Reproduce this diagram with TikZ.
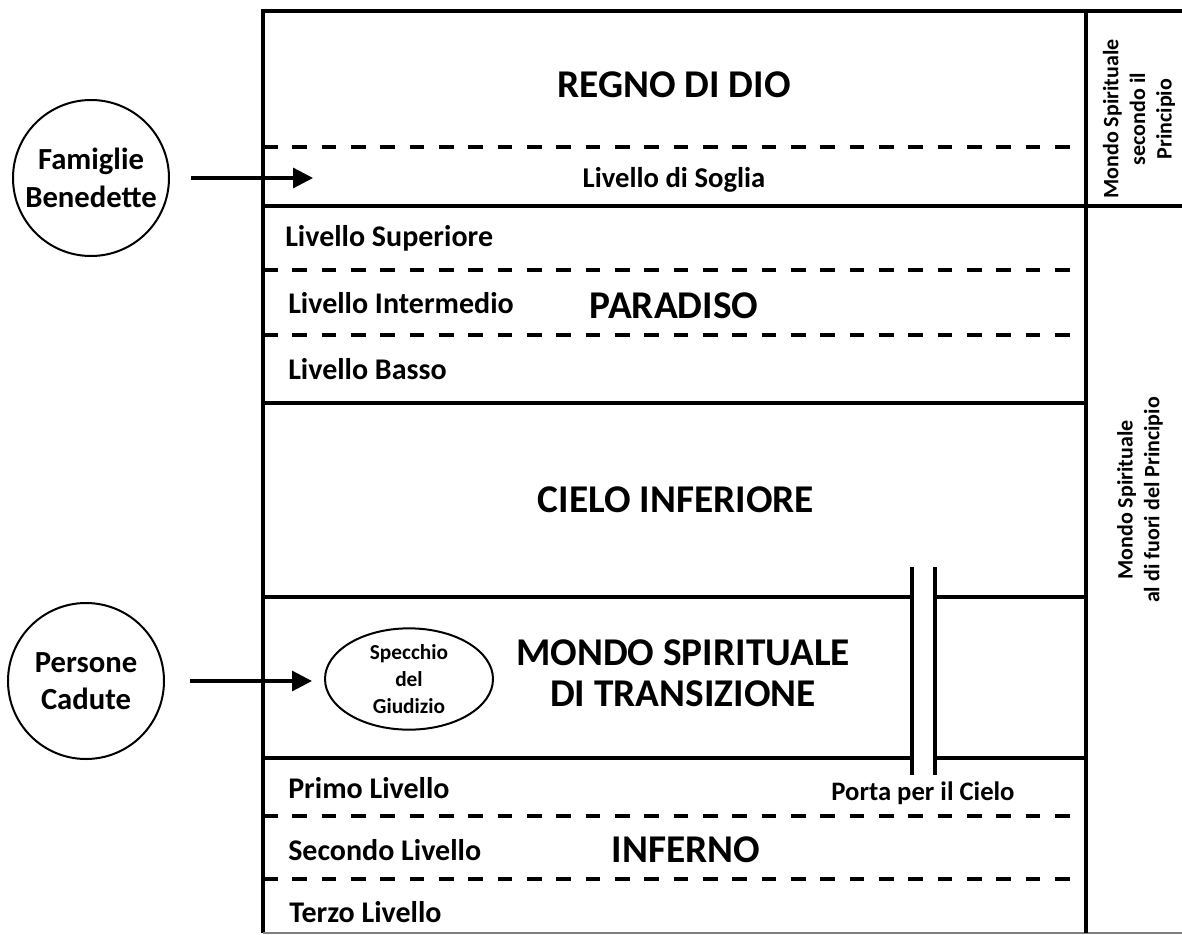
\documentclass[tikz,border=0pt]{standalone}
\usepackage{fontspec}
\setmainfont{Carlito}
\usetikzlibrary{arrows.meta,shapes.geometric}

\tikzset{
  wall/.style={line width=2.4pt},
  sill/.style={line width=2.4pt, dash pattern=on 11pt off 11pt},
  realm/.style={font=\fontsize{29.5}{31}\selectfont\bfseries, align=center},
  level/.style={font=\fontsize{22.5}{26}\selectfont\bfseries},
  soul/.style={draw, circle, line width=1.5pt, minimum size=117pt, inner sep=0pt, align=center,
    font=\fontsize{23}{28}\selectfont\bfseries},
  side/.style={rotate=90, align=center, font=\fontsize{16.5}{20}\selectfont\bfseries},
  push/.style={line width=2.4pt, -{Triangle[length=15pt,width=15pt]}}
}

\begin{document}
\begin{tikzpicture}[x=0.75pt,y=-0.75pt]
\useasboundingbox (0,0) rectangle (1182,935);
% frame
\draw[wall](1182,11)--(263,11)--(263,933);
\draw[line width=0.8pt,gray](263,933)--(1182,933);
\draw[wall](1086,11)--(1086,933);
\draw[wall](263,206)--(1182,206);
\draw[wall](263,403)--(1086,403);
\draw[wall](263,597)--(912,597);
\draw[wall](935,597)--(1086,597);
\draw[wall](263,758)--(912,758);
\draw[wall](935,758)--(1086,758);
% door
\draw[wall](912,567)--(912,775);
\draw[wall](935,567)--(935,775);
%
\draw[sill](263,147)--(1086,147);
\draw[sill](263,270)--(1086,270);
\draw[sill](263,335)--(1086,335);
\draw[sill](263,816)--(1086,816);
\draw[sill](263,879)--(1086,879);
%
\node[realm] (regno) at (674,85) {REGNO DI DIO};
\node[level,font=\fontsize{21.5}{26}\selectfont\bfseries] (soglia) at (674,180) {Livello di Soglia};
\node[level,anchor=west,inner sep=0pt] (superiore) at (285,238) {Livello Superiore};
\node[level,anchor=west,inner sep=0pt] (intermedio) at (288,303) {Livello Intermedio};
\node[realm] (paradiso) at (674,306) {PARADISO};
\node[level,anchor=west,inner sep=0pt] (basso) at (288,369) {Livello Basso};
\node[realm] (cielo) at (676,500) {CIELO INFERIORE};
\node[realm] (transizione) at (683,673) {MONDO SPIRITUALE\\DI TRANSIZIONE};
\node[level,font=\fontsize{20}{24}\selectfont\bfseries] (porta) at (923,793) {Porta per il Cielo};
\node[level,anchor=west,inner sep=0pt] (primo) at (288,788) {Primo Livello};
\node[level,anchor=west,inner sep=0pt] (secondo) at (288,850) {Secondo Livello};
\node[realm] (inferno) at (686,850) {INFERNO};
\node[level,anchor=west,inner sep=0pt] (terzo) at (289,912) {Terzo Livello};
%
\node[side] (principio) at (1139,119) {Mondo Spirituale\\secondo il\\Principio};
\node[side] (fuori) at (1140,500) {Mondo Spirituale\\al di fuori del Principio};
%
\node[soul] (famiglie) at (91,178) {Famiglie\\Benedette};
\node[soul] (persone) at (86,681) {Persone\\Cadute};
\node[draw, ellipse, line width=1.5pt, minimum width=126pt, minimum height=76pt, inner sep=0pt,
  align=center, font=\fontsize{16}{20}\selectfont\bfseries] (specchio) at (409,679) {Specchio\\del\\Giudizio};
\coordinate (ingresso) at (313,178);
\draw[push, shorten <=16pt] (famiglie) -- (ingresso);
\draw[push, shorten <=19pt, shorten >=9pt] (persone) -- (persone -| specchio.west);
\end{tikzpicture}
\end{document}
